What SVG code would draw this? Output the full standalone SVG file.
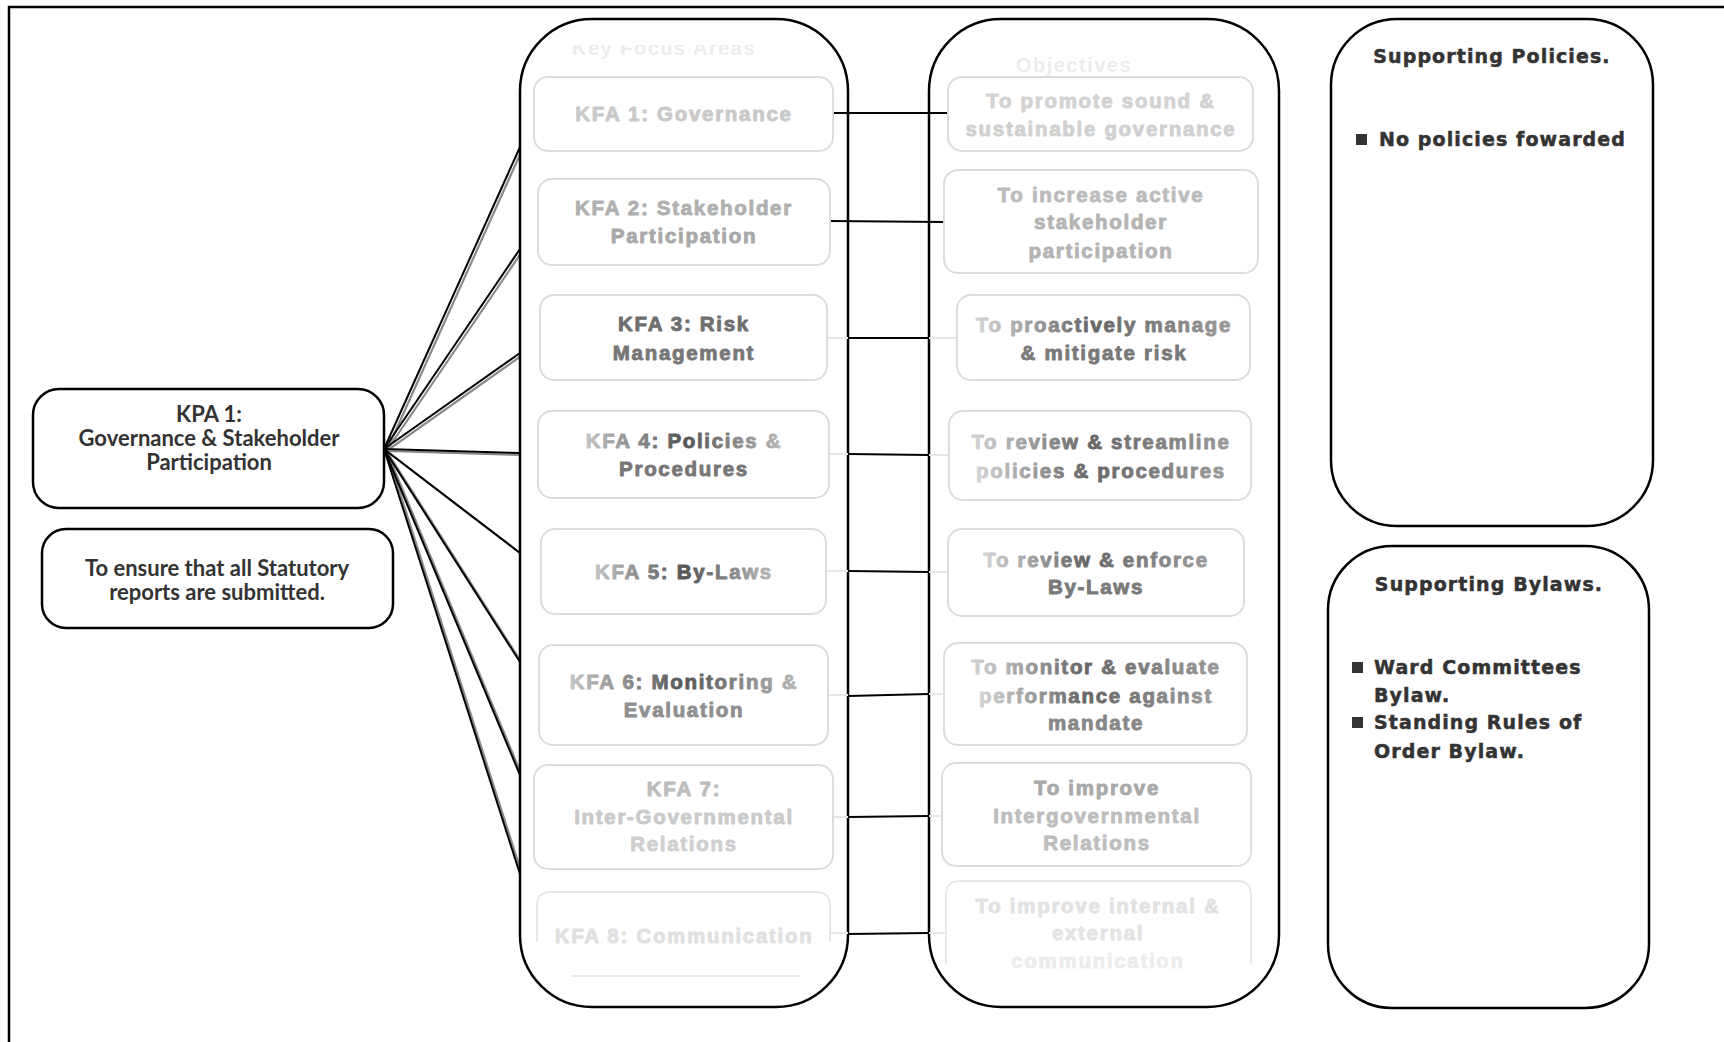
<svg xmlns="http://www.w3.org/2000/svg" width="1724" height="1042" viewBox="0 0 1724 1042">
  <style>
    .frame { fill: none; stroke: #000; stroke-width: 2.5; }
    .panel { fill: #fff; stroke: #000; stroke-width: 2.5; }
    .card { fill: #fff; stroke: #dcdcdc; stroke-width: 2; }
    .edge-top { stroke: url(#edgeLight); stroke-width: 2.5; fill: none; }
    .edge-bot { stroke: url(#edgeDark); stroke-width: 3; fill: none; }
    .kpa { font-family: Lato, "Open Sans", "Liberation Sans", sans-serif; font-weight: 700; font-size: 22px; fill: #333; text-anchor: middle; }
    .lbl { font-family: "Liberation Sans", Arial, sans-serif; font-weight: 700; font-size: 20.5px; letter-spacing: 1.7px; text-anchor: middle; stroke-width: 0.9px; stroke-linejoin: round; }
    .head { font-family: "Liberation Sans", Arial, sans-serif; font-weight: 700; font-size: 20px; letter-spacing: 1.5px; fill: #ececec; text-anchor: middle; }
    .sup { font-family: "DejaVu Sans", Verdana, sans-serif; font-weight: 700; font-size: 19px; letter-spacing: 1.1px; fill: #333; stroke: #333; stroke-width: 0.5px; }
    .fan { stroke: #000; stroke-width: 2; fill: none; }
    .fan-sh { stroke: #8a8a8a; stroke-width: 2.2; fill: none; }
    .link { stroke: #000; stroke-width: 2.2; fill: none; }
    .stub { stroke: #e6e6e6; stroke-width: 2; fill: none; }
  </style>
  <defs>
    <linearGradient id="edgeLight" x1="0" y1="0" x2="1" y2="0">
      <stop offset="0" stop-color="#e2e2e2"/>
      <stop offset="0.5" stop-color="#9a9a9a"/>
      <stop offset="1" stop-color="#e2e2e2"/>
    </linearGradient>
    <linearGradient id="edgeDark" x1="0" y1="0" x2="1" y2="0">
      <stop offset="0" stop-color="#d0d0d0"/>
      <stop offset="0.5" stop-color="#3a3a3a"/>
      <stop offset="1" stop-color="#d0d0d0"/>
    </linearGradient>
    <linearGradient id="edgeFaint" x1="0" y1="0" x2="1" y2="0">
      <stop offset="0" stop-color="#e8e8e8"/>
      <stop offset="0.5" stop-color="#c4c4c4"/>
      <stop offset="1" stop-color="#e8e8e8"/>
    </linearGradient>
    <linearGradient id="txtMid" x1="0" y1="0" x2="1" y2="0">
      <stop offset="0" stop-color="#c4c4c4"/>
      <stop offset="0.5" stop-color="#555"/>
      <stop offset="1" stop-color="#b8b8b8"/>
    </linearGradient>
    <linearGradient id="txtRight" x1="0" y1="0" x2="1" y2="0">
      <stop offset="0" stop-color="#d4d4d4"/>
      <stop offset="0.45" stop-color="#666"/>
      <stop offset="1" stop-color="#9a9a9a"/>
    </linearGradient>
    <clipPath id="headClip">
      <rect x="520" y="45" width="330" height="30"/>
    </clipPath>
  </defs>

  <!-- outer frame, open to the right and bottom -->
  <rect class="frame" x="9" y="7" width="1760" height="1080"/>

  <!-- fan of links from the KPA to each focus area -->
  <g id="connectors">
    <g transform="translate(2.5,2)">
      <path class="fan-sh" d="M384 449 L520 147"/>
      <path class="fan-sh" d="M384 449 L520 249"/>
      <path class="fan-sh" d="M384 449 L520 353"/>
      <path class="fan-sh" d="M384 449 L520 453"/>
      <path class="fan-sh" d="M384 449 L520 553"/>
      <path class="fan-sh" d="M384 449 L520 662"/>
      <path class="fan-sh" d="M384 449 L520 775"/>
      <path class="fan-sh" d="M384 449 L520 874"/>
    </g>
    <path class="fan" d="M384 449 L520 147"/>
    <path class="fan" d="M384 449 L520 249"/>
    <path class="fan" d="M384 449 L520 353"/>
    <path class="fan" d="M384 449 L520 453"/>
    <path class="fan" d="M384 449 L520 553"/>
    <path class="fan" d="M384 449 L520 662"/>
    <path class="fan" d="M384 449 L520 775"/>
    <path class="fan" d="M384 449 L520 874"/>
  </g>

  <!-- column containers -->
  <g id="kfa-panel"><rect class="panel" x="520" y="19" width="328" height="988" rx="72"/></g>
  <g id="objective-panel"><rect class="panel" x="929" y="19" width="350" height="988" rx="72"/></g>

  <!-- focus area to objective links -->
  <g id="links">
    <path class="link" d="M833 113 L948 113"/>
    <path class="link" d="M830 221 L944 222"/>
    <path class="stub" d="M827 338 L848 338"/><path class="link" d="M848 338 L929 338"/><path class="stub" d="M929 338 L957 338"/>
    <path class="stub" d="M829 454 L848 454"/><path class="link" d="M848 454 L929 455"/><path class="stub" d="M929 455 L949 455"/>
    <path class="stub" d="M826 571 L848 571"/><path class="link" d="M848 571 L929 572"/><path class="stub" d="M929 572 L948 572"/>
    <path class="stub" d="M828 695 L848 695"/><path class="link" d="M848 696 L929 694"/><path class="stub" d="M929 694 L944 694"/>
    <path class="stub" d="M833 817 L848 817"/><path class="link" d="M848 817 L929 816"/><path class="stub" d="M929 816 L942 816"/>
    <path class="stub" d="M830 933 L848 933"/><path class="link" d="M848 934 L929 933"/><path class="stub" d="M929 933 L946 933"/>
  </g>

  <!-- column headings -->
  <text class="head" x="664" y="55" clip-path="url(#headClip)">Key Focus Areas</text>
  <text class="head" x="1074" y="72">Objectives</text>

  <!-- KPA and its goal -->
  <g id="kpa1">
    <rect class="panel" x="33" y="389" width="351" height="119" rx="26"/>
    <text class="kpa" x="209" y="422">KPA 1:</text>
    <text class="kpa" x="209" y="446">Governance &amp; Stakeholder</text>
    <text class="kpa" x="209" y="470">Participation</text>
  </g>
  <g id="kpa1-goal">
    <rect class="panel" x="42" y="529" width="351" height="99" rx="24"/>
    <text class="kpa" x="217" y="576">To ensure that all Statutory</text>
    <text class="kpa" x="217" y="600">reports are submitted.</text>
  </g>

  <!-- key focus areas -->
  <g id="kfa1">
    <rect class="card" x="534" y="77" width="299" height="74" rx="14"/>
    <path d="M548 77 H819" stroke="url(#edgeFaint)" stroke-width="2.5"/>
    <path d="M548 151 H819" stroke="url(#edgeLight)" stroke-width="3"/>
    <text class="lbl" x="684" y="121" fill="#c9c9c9" stroke="#c9c9c9">KFA 1: Governance</text>
  </g>
  <g id="kfa2">
    <rect class="card" x="538" y="179" width="292" height="86" rx="14"/>
    <path d="M552 179 H816" stroke="url(#edgeFaint)" stroke-width="2.5"/>
    <path d="M552 265 H816" stroke="url(#edgeLight)" stroke-width="3"/>
    <text class="lbl" x="684" y="215" fill="#b0b0b0" stroke="#b0b0b0">KFA 2: Stakeholder</text>
    <text class="lbl" x="684" y="243" fill="#a8a8a8" stroke="#a8a8a8">Participation</text>
  </g>
  <g id="kfa3">
    <rect class="card" x="540" y="295" width="287" height="85" rx="14"/>
    <path class="edge-top" d="M554 295 H813"/>
    <path class="edge-bot" d="M554 380 H813"/>
    <text class="lbl" x="684" y="331" fill="#6f6f6f" stroke="#6f6f6f">KFA 3: Risk</text>
    <text class="lbl" x="684" y="360" fill="#777" stroke="#777">Management</text>
  </g>
  <g id="kfa4">
    <rect class="card" x="538" y="411" width="291" height="87" rx="14"/>
    <path class="edge-top" d="M552 411 H815"/>
    <path class="edge-bot" d="M552 498 H815"/>
    <text class="lbl" x="684" y="448" fill="url(#txtMid)" stroke="url(#txtMid)">KFA 4: Policies &amp;</text>
    <text class="lbl" x="684" y="476" fill="#777" stroke="#777">Procedures</text>
  </g>
  <g id="kfa5">
    <rect class="card" x="541" y="529" width="285" height="85" rx="14"/>
    <path class="edge-top" d="M555 529 H812"/>
    <path d="M555 614 H812" stroke="url(#edgeLight)" stroke-width="3"/>
    <text class="lbl" x="684" y="579" fill="url(#txtMid)" stroke="url(#txtMid)">KFA 5: By-Laws</text>
  </g>
  <g id="kfa6">
    <rect class="card" x="539" y="645" width="289" height="100" rx="14"/>
    <path class="edge-top" d="M553 645 H814"/>
    <path d="M553 745 H814" stroke="url(#edgeLight)" stroke-width="3"/>
    <text class="lbl" x="684" y="689" fill="url(#txtMid)" stroke="url(#txtMid)">KFA 6: Monitoring &amp;</text>
    <text class="lbl" x="684" y="717" fill="#8f8f8f" stroke="#8f8f8f">Evaluation</text>
  </g>
  <g id="kfa7">
    <rect class="card" x="534" y="765" width="299" height="104" rx="14"/>
    <path d="M548 765 H819" stroke="url(#edgeFaint)" stroke-width="2.5"/>
    <path d="M548 869 H819" stroke="url(#edgeFaint)" stroke-width="3"/>
    <text class="lbl" x="684" y="796" fill="#bdbdbd" stroke="#bdbdbd">KFA 7:</text>
    <text class="lbl" x="684" y="824" fill="#cacaca" stroke="#cacaca">Inter-Governmental</text>
    <text class="lbl" x="684" y="851" fill="#cfcfcf" stroke="#cfcfcf">Relations</text>
  </g>
  <g id="kfa8">
    <path d="M537 942 V906 Q537 892 551 892 H816 Q830 892 830 906 V942" fill="none" stroke="#e6e6e6" stroke-width="2"/>
    <path d="M572 976 H799" stroke="#ebebeb" stroke-width="2"/>
    <text class="lbl" x="684" y="943" fill="#e0e0e0" stroke="#e0e0e0">KFA 8: Communication</text>
  </g>

  <!-- objectives -->
  <g id="obj1">
    <rect class="card" x="948" y="77" width="305" height="74" rx="14"/>
    <path d="M962 77 H1239" stroke="url(#edgeFaint)" stroke-width="2.5"/>
    <path d="M962 151 H1239" stroke="url(#edgeFaint)" stroke-width="3"/>
    <text class="lbl" x="1101" y="108" fill="#d2d2d2" stroke="#d2d2d2">To promote sound &amp;</text>
    <text class="lbl" x="1101" y="136" fill="#d0d0d0" stroke="#d0d0d0">sustainable governance</text>
  </g>
  <g id="obj2">
    <rect class="card" x="944" y="170" width="314" height="103" rx="14"/>
    <path d="M958 170 H1244" stroke="url(#edgeFaint)" stroke-width="2.5"/>
    <path d="M958 273 H1244" stroke="url(#edgeLight)" stroke-width="3"/>
    <text class="lbl" x="1101" y="202" fill="#bcbcbc" stroke="#bcbcbc">To increase active</text>
    <text class="lbl" x="1101" y="229" fill="#b4b4b4" stroke="#b4b4b4">stakeholder</text>
    <text class="lbl" x="1101" y="258" fill="#b4b4b4" stroke="#b4b4b4">participation</text>
  </g>
  <g id="obj3">
    <rect class="card" x="957" y="295" width="293" height="85" rx="14"/>
    <path class="edge-top" d="M971 295 H1236"/>
    <path class="edge-bot" d="M971 380 H1236"/>
    <text class="lbl" x="1104" y="332" fill="url(#txtRight)" stroke="url(#txtRight)">To proactively manage</text>
    <text class="lbl" x="1104" y="360" fill="#7a7a7a" stroke="#7a7a7a">&amp; mitigate risk</text>
  </g>
  <g id="obj4">
    <rect class="card" x="949" y="411" width="302" height="89" rx="14"/>
    <path class="edge-top" d="M963 411 H1237"/>
    <path class="edge-bot" d="M963 500 H1237"/>
    <text class="lbl" x="1101" y="449" fill="url(#txtRight)" stroke="url(#txtRight)">To review &amp; streamline</text>
    <text class="lbl" x="1101" y="478" fill="url(#txtRight)" stroke="url(#txtRight)">policies &amp; procedures</text>
  </g>
  <g id="obj5">
    <rect class="card" x="948" y="529" width="296" height="87" rx="14"/>
    <path class="edge-top" d="M962 529 H1230"/>
    <path d="M962 616 H1230" stroke="url(#edgeLight)" stroke-width="3"/>
    <text class="lbl" x="1096" y="567" fill="url(#txtRight)" stroke="url(#txtRight)">To review &amp; enforce</text>
    <text class="lbl" x="1096" y="594" fill="#7a7a7a" stroke="#7a7a7a">By-Laws</text>
  </g>
  <g id="obj6">
    <rect class="card" x="944" y="643" width="303" height="102" rx="14"/>
    <path class="edge-top" d="M958 643 H1233"/>
    <path d="M958 745 H1233" stroke="url(#edgeLight)" stroke-width="3"/>
    <text class="lbl" x="1096" y="674" fill="url(#txtRight)" stroke="url(#txtRight)">To monitor &amp; evaluate</text>
    <text class="lbl" x="1096" y="703" fill="url(#txtRight)" stroke="url(#txtRight)">performance against</text>
    <text class="lbl" x="1096" y="730" fill="#888" stroke="#888">mandate</text>
  </g>
  <g id="obj7">
    <rect class="card" x="942" y="763" width="309" height="103" rx="14"/>
    <path class="edge-top" d="M956 763 H1237"/>
    <path d="M956 866 H1237" stroke="url(#edgeLight)" stroke-width="3"/>
    <text class="lbl" x="1097" y="795" fill="#a9a9a9" stroke="#a9a9a9">To improve</text>
    <text class="lbl" x="1097" y="823" fill="#bdbdbd" stroke="#bdbdbd">Intergovernmental</text>
    <text class="lbl" x="1097" y="850" fill="#bdbdbd" stroke="#bdbdbd">Relations</text>
  </g>
  <g id="obj8">
    <path d="M946 964 V895 Q946 881 960 881 H1237 Q1251 881 1251 895 V964" fill="none" stroke="#e8e8e8" stroke-width="2"/>
    <text class="lbl" x="1098" y="913" fill="#e2e2e2" stroke="#e2e2e2">To improve internal &amp;</text>
    <text class="lbl" x="1098" y="940" fill="#e4e4e4" stroke="#e4e4e4">external</text>
    <text class="lbl" x="1098" y="968" fill="#ececec" stroke="#ececec">communication</text>
  </g>

  <!-- supporting documents -->
  <g id="supporting-policies">
    <rect class="panel" x="1331" y="19" width="322" height="507" rx="66"/>
    <text class="sup" x="1492" y="63" text-anchor="middle">Supporting Policies.</text>
    <rect x="1356" y="134" width="11" height="11" fill="#333"/>
    <text class="sup" x="1379" y="146">No policies fowarded</text>
  </g>
  <g id="supporting-bylaws">
    <rect class="panel" x="1328" y="546" width="321" height="462" rx="64"/>
    <text class="sup" x="1489" y="591" text-anchor="middle">Supporting Bylaws.</text>
    <rect x="1352" y="662" width="11" height="11" fill="#333"/>
    <text class="sup" x="1374" y="674">Ward Committees</text>
    <text class="sup" x="1374" y="702">Bylaw.</text>
    <rect x="1352" y="717" width="11" height="11" fill="#333"/>
    <text class="sup" x="1374" y="729">Standing Rules of</text>
    <text class="sup" x="1374" y="758">Order Bylaw.</text>
  </g>
</svg>
